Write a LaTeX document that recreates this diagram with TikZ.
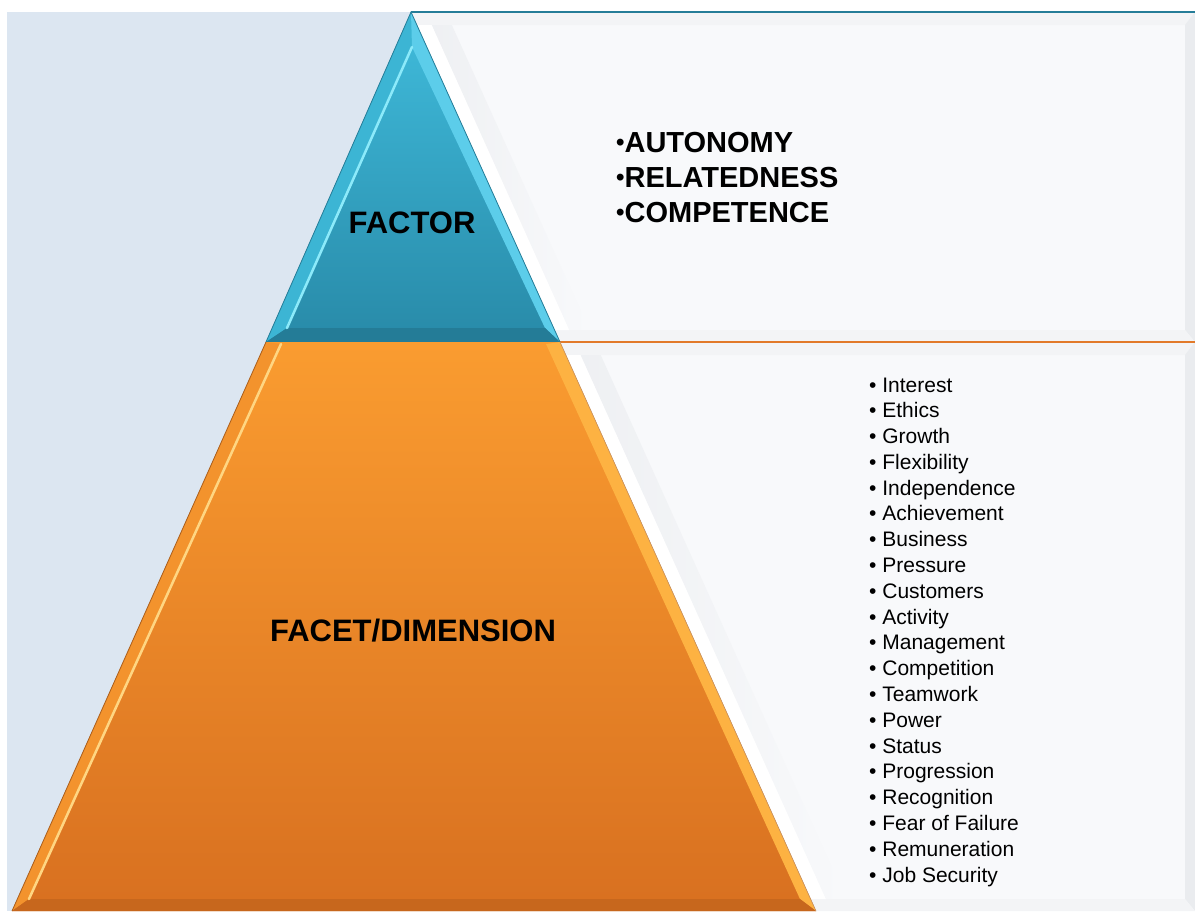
\documentclass[tikz,border=0pt]{standalone}
\usepackage{fontspec}
\setmainfont{Liberation Sans}
\usepackage{tikz}
\definecolor{Backdrop}{RGB}{220,230,241}
\definecolor{Panel}{RGB}{248,249,251}
\definecolor{PanelTop}{RGB}{243,244,246}
\definecolor{PanelSide}{RGB}{234,236,239}
\definecolor{TealTop}{RGB}{64,188,220}
\definecolor{TealBot}{RGB}{40,138,168}
\definecolor{TealLight}{RGB}{140,234,250}
\definecolor{TealSide}{RGB}{92,205,234}
\definecolor{TealDark}{RGB}{38,125,152}
\definecolor{OrangeTop}{RGB}{250,156,48}
\definecolor{OrangeBot}{RGB}{216,112,32}
\definecolor{OrangeLight}{RGB}{255,214,130}
\definecolor{OrangeSide}{RGB}{253,178,66}
\definecolor{OrangeDark}{RGB}{170,95,30}
\definecolor{OrangeLine}{RGB}{226,122,42}
% panel behind one tier: top y, bottom y
\newcommand{\TextPanel}[2]{%
\fill[Panel] (411,#1) rectangle (1195,#2);
\fill[PanelTop] (411,#1) -- (1195,#1) -- (1185,#1+13) -- (411,#1+13) -- cycle;
\fill[PanelSide] (1195,#1) -- (1195,#2) -- (1185,#2-12) -- (1185,#1+13) -- cycle;
\fill[PanelTop] (411,#2) -- (1195,#2) -- (1185,#2-12) -- (411,#2-12) -- cycle;
\fill[white] ({411+0.451*(#1+1)},#1+13) -- ({426+0.451*(#1+1)},#1+13)
  -- ({426+0.451*(#2-24)},#2-12) -- ({411+0.451*(#2-24)},#2-12) -- cycle;
\shade[left color=PanelSide!70!Panel,right color=Panel] ({426+0.451*(#1+1)},#1+13) -- ({446+0.451*(#1+1)},#1+13)
  -- ({446+0.451*(#2-24)},#2-12) -- ({426+0.451*(#2-24)},#2-12) -- cycle;
}
\newcommand{\Dot}{\raisebox{0.06em}{\fontsize{24}{24}\selectfont•}}

\begin{document}
\begin{tikzpicture}[x=1pt,y=-1pt,
  tier/.style={font=\bfseries\fontsize{31}{31}\selectfont},
  need/.style={anchor=base west,inner sep=0pt,font=\bfseries\fontsize{29}{29}\selectfont},
  item/.style={anchor=base west,inner sep=0pt,font=\fontsize{21}{21}\selectfont}]
\useasboundingbox (0,0) rectangle (1195,911);
\fill[Backdrop] (7,12) rectangle (1195,911);
% text panels
\TextPanel{12}{342}
\TextPanel{342}{911}
\draw[TealDark,line width=2pt] (411,12) -- (1195,12);
\draw[OrangeLine,line width=2pt] (560,342) -- (1195,342);
% top tier
\coordinate (apex) at (411,12);
\coordinate (tl) at (266,342);
\coordinate (tr) at (560,342);
\coordinate (ia) at (412,47);
\coordinate (il) at (287,328);
\coordinate (ir) at (545,328);
\shade[top color=TealTop,bottom color=TealBot] (apex) -- (tl) -- (tr) -- cycle;
\fill[TealTop!85!TealBot] (apex) -- (tl) -- (il) -- (ia) -- cycle;
\fill[TealSide] (apex) -- (tr) -- (ir) -- (ia) -- cycle;
\fill[TealBot!90!black] (tl) -- (tr) -- (ir) -- (il) -- cycle;
\draw[TealLight,line width=2.5pt,line cap=round] (ia) -- (il);
\draw[TealDark,line width=0.8pt] (apex) -- (tl) -- (tr) -- cycle;
% bottom tier
\coordinate (bl) at (12,911);
\coordinate (br) at (816,911);
\coordinate (jl) at (281,344);
\coordinate (jr) at (546,344);
\coordinate (jbl) at (29,899);
\coordinate (jbr) at (800,899);
\shade[top color=OrangeTop,bottom color=OrangeBot] (tl) -- (tr) -- (br) -- (bl) -- cycle;
\fill[OrangeTop!80!OrangeBot] (tl) -- (bl) -- (jbl) -- (jl) -- cycle;
\fill[OrangeSide] (tr) -- (br) -- (jbr) -- (jr) -- cycle;
\fill[OrangeBot!92!black] (bl) -- (br) -- (jbr) -- (jbl) -- cycle;
\draw[OrangeLight,line width=2.5pt,line cap=round] (jl) -- (jbl);
\draw[OrangeDark,line width=0.8pt] (tl) -- (bl);
\draw[OrangeDark!70,line width=0.6pt] (tr) -- (br);
% labels
\node[tier,anchor=base] (factor) at (412,233) {FACTOR};
\node[tier,anchor=base] (facet) at (413,641) {FACET/DIMENSION};
\foreach \w [count=\i] in {AUTONOMY,RELATEDNESS,COMPETENCE}
  \node[need] (need\i) at (616,{152+35*(\i-1)}) {\Dot\w};
\foreach \w [count=\i] in {Interest,Ethics,Growth,Flexibility,Independence,Achievement,
  Business,Pressure,Customers,Activity,Management,Competition,Teamwork,Power,Status,
  Progression,Recognition,Fear of Failure,Remuneration,Job Security}
  \node[item] (dim\i) at (869,{392+25.79*(\i-1)}) {• \w};
\end{tikzpicture}
\end{document}
